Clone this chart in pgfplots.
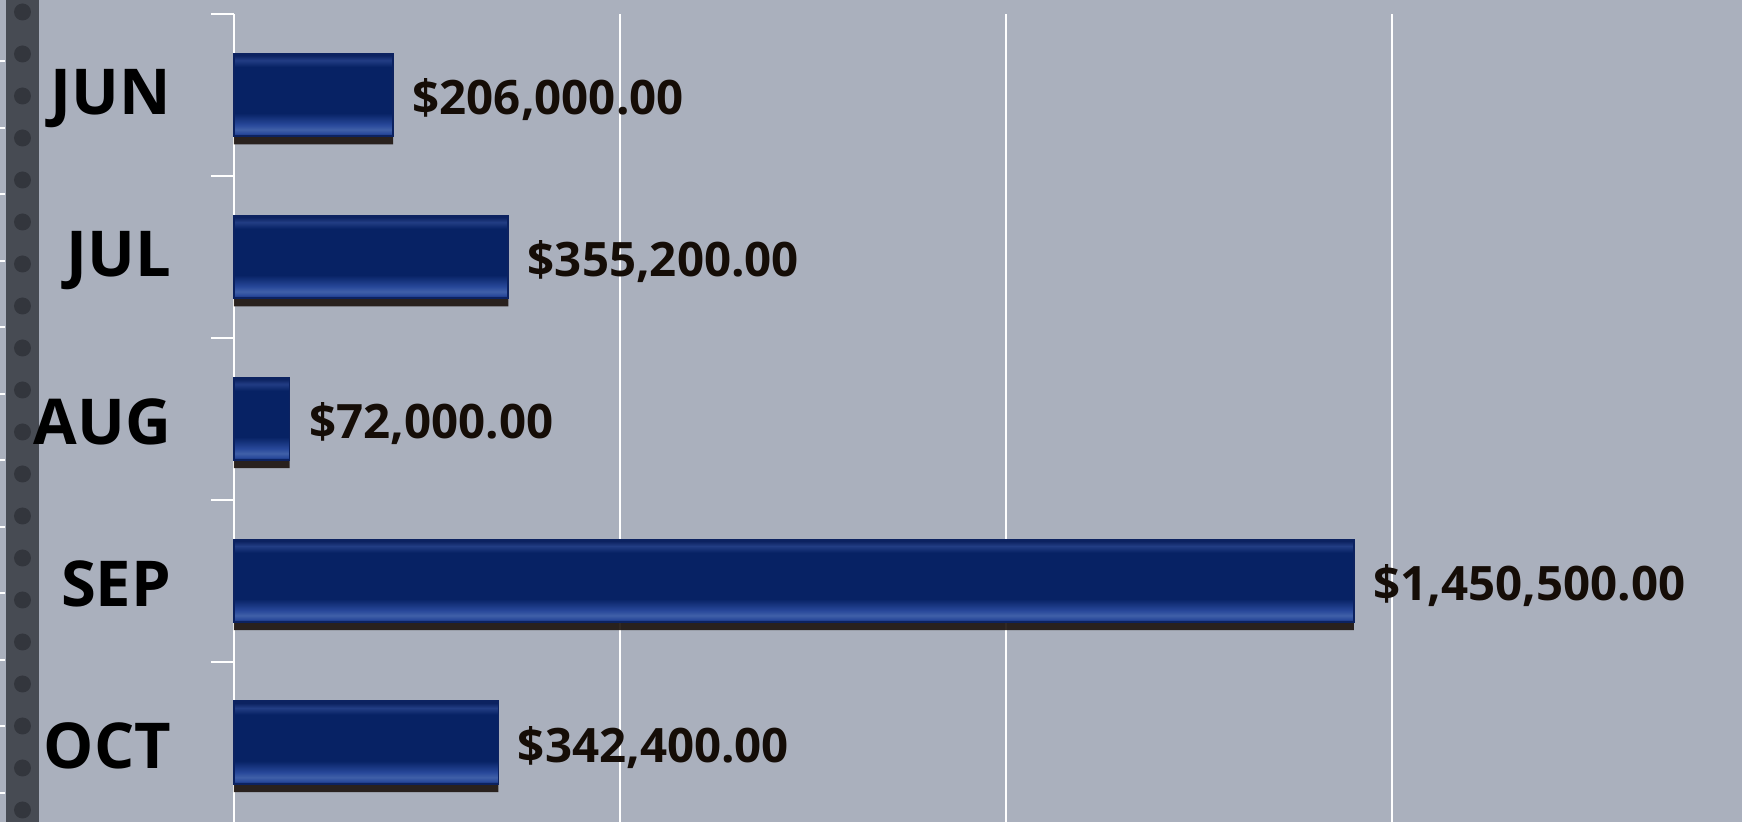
\documentclass[border=0pt]{standalone}
\usepackage{fontspec}
\setmainfont{Open Sans}
\usepackage{pgfplots}
\pgfplotsset{compat=1.18}

\definecolor{bg}{HTML}{AAB0BD}
\definecolor{stripc}{HTML}{474B53}
\definecolor{dotc}{HTML}{33363D}
\definecolor{navy}{HTML}{072264}
\definecolor{lite}{HTML}{4060A8}
\definecolor{lite2}{HTML}{28489A}
\definecolor{topl}{HTML}{223D84}
\definecolor{edgec}{HTML}{0C2260}
\definecolor{shadowc}{HTML}{1C120D}
\definecolor{txt}{HTML}{150D07}

\pgfdeclareverticalshading{bevel}{100bp}{
  color(0bp)=(edgec); color(25bp)=(edgec); color(26.5bp)=(lite2);
  color(29bp)=(lite); color(32bp)=(lite2); color(39bp)=(navy);
  color(67bp)=(navy); color(71bp)=(topl); color(74bp)=(edgec);
  color(100bp)=(edgec)}

\pgfplotsset{
  mybar/.style={xbar, bar shift=0, shading=bevel, draw=edgec, line width=0.5pt,
    nodes near coords, point meta=explicit symbolic,
    every node near coord/.append style={anchor=west, xshift=0.7mm, yshift=-0.5mm,
      font=\bfseries\fontsize{13.5}{16}\selectfont, text=txt}},
}

\begin{document}
\begin{tikzpicture}
  \path[use as bounding box, fill=bg] (0,0) rectangle (174.2mm,82.2mm);
  % textured strip at the left edge
  \fill[stripc] (0.6mm,0) rectangle (3.9mm,82.2mm);
  \draw[dotc, line width=1.7mm, line cap=round, dash pattern=on 0pt off 4.2mm]
    (2.25mm,81mm) -- (2.25mm,0);
  \draw[white, line width=0.5mm, dash pattern=on 0.2mm off 6.45mm]
    (0.25mm,2.8mm) -- (0.25mm,82.2mm);

  \begin{axis}[
      at={(23.4mm,0)}, anchor=south west,
      scale only axis, width=150.8mm, height=80.8mm,
      xmin=0, xmax=1953000, ymin=-0.49, ymax=4.5,
      axis lines*=left,
      x axis line style={draw=none},
      y axis line style={white, line width=0.6pt},
      xtick={500000,1000000,1500000}, xticklabels={},
      scaled x ticks=false,
      x tick style={draw=none},
      xmajorgrids, grid style={white, line width=0.6pt},
      ytick={-0.5,0.5,1.5,2.5,3.5,4.5}, yticklabels={},
      y tick style={white, line width=0.6pt},
      tick align=outside, major tick length=2.3mm,
      extra y ticks={0,1,2,3,4},
      extra y tick labels={OCT,SEP,AUG,JUL,JUN},
      extra y tick style={major tick length=0pt,
        yticklabel style={font=\bfseries\fontsize{18}{22}\selectfont,
          text=black, anchor=east, xshift=-5.05mm, yshift=-0.35mm}},
      xbar, bar width=0.51,
      clip=false,
    ]
    % drop shadow under each bar
    \addplot[xbar, bar shift=-0.05, fill=shadowc, draw=none, opacity=0.9]
      coordinates {(206000,4) (355200,3) (72000,2) (1450500,1) (342400,0)};
    % one plot per bar, so that each bar gets its own bevel shading
    \addplot[mybar] coordinates {(206000,4) [\$206,000.00]};
    \addplot[mybar] coordinates {(355200,3) [\$355,200.00]};
    \addplot[mybar] coordinates {(72000,2) [\$72,000.00]};
    \addplot[mybar] coordinates {(1450500,1) [\$1,450,500.00]};
    \addplot[mybar] coordinates {(342400,0) [\$342,400.00]};
  \end{axis}
\end{tikzpicture}
\end{document}
